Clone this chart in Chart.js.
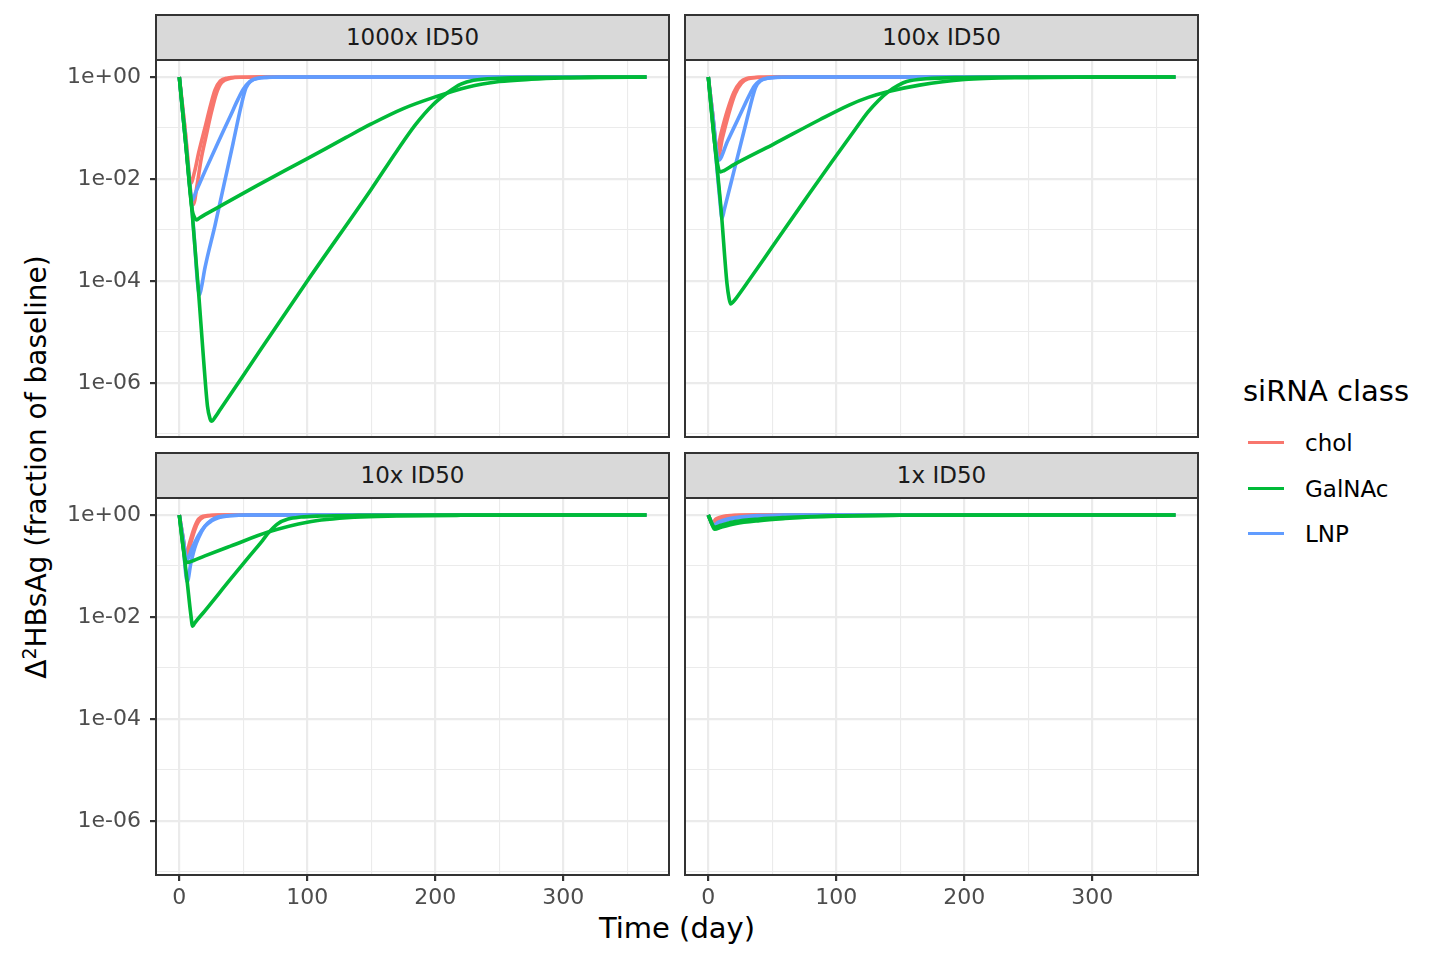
<!DOCTYPE html>
<html>
<head>
<meta charset="utf-8">
<title>HBsAg response by siRNA class</title>
<script src="https://cdn.jsdelivr.net/npm/chart.js@4.4.1/dist/chart.umd.min.js"></script>
<style>
  body { margin: 0; width: 1440px; height: 960px; background: #ffffff; position: relative; overflow: hidden; font-family: "DejaVu Sans", sans-serif; }
  .panel { position: absolute; }
  .strip { position: absolute; box-sizing: border-box; width: 515px; height: 47px; background: #d9d9d9; border: 2px solid #333333; color: #1a1a1a; font-size: 23px; line-height: 43px; text-align: center; }
  .title { position: absolute; color: #000000; font-size: 29px; line-height: 34px; white-space: nowrap; }
  .title sup { font-size: 19px; line-height: 0; }
  .key { position: absolute; left: 1248px; width: 36px; height: 3px; }
  .keylabel { position: absolute; left: 1305px; font-size: 23px; line-height: 30px; color: #000000; }
</style>
</head>
<body>
<div class="title" style="left:37px; top:450px; width:600px; margin-left:-300px; text-align:center; font-size:28px; transform:rotate(-90deg);">&Delta;<sup>2</sup>HBsAg (fraction of baseline)</div>
<div class="title" style="left:377px; top:911px; width:600px; text-align:center;">Time (day)</div>
<div class="title" style="left:1243px; top:374px;">siRNA class</div>
<div id="legend"></div>
<script>
// panels and axes
var panelTitles = ['1000x ID50', '100x ID50', '10x ID50', '1x ID50'];
var classNames = ['chol', 'GalNAc', 'LNP'];
var classColors = ['#F8766D', '#00BA38', '#619CFF'];
var xTickValues = [0, 100, 200, 300];
var xTickLabels = ['0', '100', '200', '300'];
var xMinorValues = [50, 150, 250, 350];
var yTickValues = [1, 1e-2, 1e-4, 1e-6];
var yTickLabels = ['1e+00', '1e-02', '1e-04', '1e-06'];
var yMinorValues = [1e-1, 1e-3, 1e-5, 1e-7];

// [day, fraction of baseline]
// 1000x ID50
var chol1000a = [[0,1],[4,0.126],[9,8.32e-3],[12,1.41e-2],[15,3.16e-2],[20,0.1],[25,0.316],[28,0.562],[32,0.832],[38,0.955],[45,0.989],[60,1],[365,1]];
var chol1000b = [[0,1],[5,7.08e-2],[11,3.16e-3],[14,7.94e-3],[17,2.40e-2],[21,7.08e-2],[25,0.2],[29,0.479],[33,0.776],[40,0.944],[50,0.989],[65,1],[365,1]];
var galnac1000a = [[0,1],[5,5.01e-2],[10,2.24e-3],[15,6.31e-5],[19,2.82e-6],[22,3.55e-7],[24,2.0e-7],[25.5,1.78e-7],[28,2.14e-7],[32,3.02e-7],[50,1.41e-6],[100,1e-4],[150,6.31e-3],[170,3.55e-2],[185,0.120],[198,0.282],[210,0.501],[220,0.724],[230,0.861],[250,0.944],[280,0.977],[320,0.993],[365,1]];
var galnac1000b = [[0,1],[5,5.01e-2],[10,2.51e-3],[12,1.74e-3],[13.5,1.58e-3],[16,1.74e-3],[30,2.75e-3],[60,7.24e-3],[100,2.51e-2],[130,6.46e-2],[150,0.120],[175,0.240],[200,0.407],[225,0.631],[250,0.813],[275,0.902],[300,0.955],[330,0.982],[365,0.993]];
var lnp1000a = [[0,1],[5,5.01e-2],[10,2.51e-3],[12,5.62e-4],[14.1,1e-4],[15.8,5.37e-5],[17.5,7.94e-5],[20,1.78e-4],[28,1.26e-3],[35,7.94e-3],[42,5.01e-2],[48,0.251],[52,0.603],[56,0.832],[62,0.944],[75,0.989],[100,1],[365,1]];
var lnp1000b = [[0,1],[5,5.62e-2],[10,3.80e-3],[13,5.62e-3],[20,1.41e-2],[30,5.01e-2],[40,0.174],[46,0.372],[50,0.575],[55,0.813],[60,0.933],[68,0.982],[80,1],[365,1]];
// 100x ID50
var chol100a = [[0,1],[3,0.224],[6.8,3.72e-2],[10,7.94e-2],[15,0.224],[20,0.501],[25,0.794],[30,0.933],[40,0.989],[55,1],[365,1]];
var chol100b = [[0,1],[3.5,0.178],[7.5,2.51e-2],[11,6.31e-2],[16,0.191],[21,0.468],[26,0.759],[31,0.923],[40,0.982],[55,1],[365,1]];
var galnac100a = [[0,1],[5,5.01e-2],[10,2.51e-3],[14.6,8.91e-5],[16.3,4.47e-5],[17.5,3.55e-5],[19,3.80e-5],[22,4.68e-5],[30,8.91e-5],[50,4.68e-4],[75,3.72e-3],[96,2.09e-2],[115,9.55e-2],[125,0.209],[133,0.347],[140,0.501],[148,0.676],[155,0.813],[170,0.923],[200,0.977],[250,0.995],[365,1]];
var galnac100b = [[0,1],[5,5.01e-2],[8,1.58e-2],[9.5,1.38e-2],[12,1.45e-2],[20,1.91e-2],[50,4.68e-2],[87,0.145],[110,0.282],[125,0.398],[140,0.513],[165,0.692],[200,0.891],[250,0.973],[300,0.993],[365,1]];
var lnp100a = [[0,1],[5,5.01e-2],[9,3.98e-3],[10.7,1.70e-3],[12.5,2.51e-3],[15,4.47e-3],[20,1.41e-2],[25,4.47e-2],[30,0.141],[34,0.355],[37,0.631],[41,0.851],[48,0.955],[60,0.991],[80,1],[365,1]];
var lnp100b = [[0,1],[4,0.141],[8,2.34e-2],[15,5.50e-2],[25,0.186],[32,0.437],[36,0.661],[40,0.832],[45,0.933],[55,0.989],[70,1],[365,1]];
// 10x ID50
var chol10a = [[0,1],[2.5,0.398],[5.2,0.166],[8,0.282],[11,0.501],[14,0.759],[17,0.912],[22,0.977],[30,1],[365,1]];
var chol10b = [[0,1],[3,0.355],[5.8,0.138],[9,0.282],[12,0.501],[15,0.741],[19,0.912],[25,0.977],[35,1],[365,1]];
var galnac10a = [[0,1],[3,0.234],[6,5.37e-2],[9,1.12e-2],[10.4,6.61e-3],[12,7.59e-3],[20,1.32e-2],[40,5.50e-2],[55,0.158],[65,0.316],[70,0.457],[77,0.676],[85,0.832],[95,0.912],[110,0.955],[140,0.982],[200,0.995],[365,1]];
var galnac10b = [[0,1],[3,0.234],[5.5,0.117],[8,0.120],[20,0.158],[40,0.245],[70,0.468],[100,0.724],[137,0.902],[170,0.955],[220,0.986],[280,0.995],[365,1]];
var lnp10a = [[0,1],[3,0.251],[6.2,4.90e-2],[9,0.112],[12,0.224],[15,0.355],[20,0.603],[25,0.794],[30,0.912],[40,0.977],[55,1],[365,1]];
var lnp10b = [[0,1],[3,0.355],[6,0.132],[10,0.224],[15,0.398],[20,0.603],[25,0.759],[30,0.871],[40,0.966],[55,1],[365,1]];
// 1x ID50
var chol1a = [[0,1],[1.5,0.813],[2.9,0.692],[6,0.832],[10,0.912],[15,0.966],[22,0.991],[30,1],[365,1]];
var chol1b = [[0,1],[1.6,0.794],[3.2,0.661],[7,0.813],[12,0.912],[18,0.966],[26,0.991],[35,1],[365,1]];
var galnac1a = [[0,1],[2.5,0.692],[5,0.525],[10,0.575],[21,0.676],[40,0.776],[60,0.851],[80,0.912],[100,0.951],[150,0.986],[200,0.995],[365,1]];
var galnac1b = [[0,1],[2.3,0.724],[4.6,0.575],[10,0.631],[21,0.741],[40,0.832],[60,0.891],[80,0.933],[100,0.966],[150,0.991],[250,1],[365,1]];
var lnp1a = [[0,1],[2,0.759],[4.2,0.603],[8,0.692],[15,0.794],[25,0.891],[40,0.955],[60,0.989],[90,1],[365,1]];
var lnp1b = [[0,1],[2,0.776],[4,0.631],[8,0.724],[15,0.832],[25,0.912],[40,0.973],[60,0.993],[80,1],[365,1]];

// per panel, per class (same order as classNames)
var panelCurves = [
  [[chol1000a, chol1000b], [galnac1000a, galnac1000b], [lnp1000a, lnp1000b]],
  [[chol100a, chol100b], [galnac100a, galnac100b], [lnp100a, lnp100b]],
  [[chol10a, chol10b], [galnac10a, galnac10b], [lnp10a, lnp10b]],
  [[chol1a, chol1b], [galnac1a, galnac1b], [lnp1a, lnp1b]]
];

var boxes = [
  { left: 156, top: 60, showX: false, showY: true },
  { left: 685, top: 60, showX: false, showY: false },
  { left: 156, top: 498, showX: true, showY: true },
  { left: 685, top: 498, showX: true, showY: false }
];
var PW = 513, PH = 377, AX_W = 110, AX_H = 45, PAD = 4;
var FONT = '"DejaVu Sans", sans-serif';

function isMajorX(v) { return xTickValues.indexOf(v) >= 0; }
function yIndex(v) {
  for (var i = 0; i < yTickValues.length; i++) {
    if (Math.abs(Math.log10(v) - Math.log10(yTickValues[i])) < 1e-6) return i;
  }
  return -1;
}

var panelBorder = {
  id: 'panelBorder',
  afterDatasetsDraw: function (chart) {
    var a = chart.chartArea, c = chart.ctx;
    c.save();
    c.strokeStyle = '#333333';
    c.lineWidth = 2;
    c.strokeRect(a.left, a.top, a.right - a.left, a.bottom - a.top);
    c.restore();
  }
};

boxes.forEach(function (b, p) {
  // strip on top of each panel
  var strip = document.createElement('div');
  strip.className = 'strip';
  strip.style.left = (b.left - 1) + 'px';
  strip.style.top = (b.top - 46) + 'px';
  strip.textContent = panelTitles[p];
  document.body.appendChild(strip);

  var wrap = document.createElement('div');
  wrap.className = 'panel';
  wrap.style.left = (b.left - AX_W) + 'px';
  wrap.style.top = (b.top - PAD) + 'px';
  var cv = document.createElement('canvas');
  cv.width = AX_W + PW + PAD;
  cv.height = PAD + PH + AX_H;
  cv.style.width = cv.width + 'px';
  cv.style.height = cv.height + 'px';
  wrap.appendChild(cv);
  document.body.appendChild(wrap);

  // GalNAc first so it ends on top, chol at the bottom
  var datasets = [];
  [1, 2, 0].forEach(function (k) {
    panelCurves[p][k].forEach(function (curve) {
      datasets.push({
        label: classNames[k],
        data: curve.map(function (pt) { return { x: pt[0], y: pt[1] }; }),
        borderColor: classColors[k],
        borderWidth: 3.6,
        borderJoinStyle: 'round',
        pointRadius: 0,
        cubicInterpolationMode: 'monotone',
        fill: false
      });
    });
  });

  new Chart(cv.getContext('2d'), {
    type: 'line',
    data: { datasets: datasets },
    options: {
      responsive: false,
      animation: false,
      layout: { padding: { left: 0, top: PAD, right: PAD, bottom: 0 } },
      plugins: { legend: { display: false }, tooltip: { enabled: false } },
      scales: {
        x: {
          type: 'linear',
          min: -18.2,
          max: 382.6,
          afterBuildTicks: function (s) {
            s.ticks = xTickValues.concat(xMinorValues).sort(function (a, c) { return a - c; })
              .map(function (v) { return { value: v }; });
          },
          afterFit: function (s) { s.height = AX_H; s.paddingLeft = 0; s.paddingRight = 0; },
          ticks: {
            display: b.showX,
            autoSkip: false,
            maxRotation: 0,
            padding: 4,
            color: '#4D4D4D',
            font: { family: FONT, size: 22 },
            callback: function (v) { var i = xTickValues.indexOf(v); return i >= 0 ? xTickLabels[i] : ''; }
          },
          grid: {
            color: '#EBEBEB',
            lineWidth: function (ctx) { return ctx.tick && isMajorX(ctx.tick.value) ? 2.2 : 1.1; },
            drawTicks: b.showX,
            tickLength: 6,
            tickWidth: 2.2,
            tickColor: function (ctx) { return ctx.tick && isMajorX(ctx.tick.value) ? '#333333' : 'rgba(0,0,0,0)'; }
          },
          border: { display: false }
        },
        y: {
          type: 'logarithmic',
          min: 8.73e-8,
          max: 2.154,
          afterBuildTicks: function (s) {
            s.ticks = yTickValues.concat(yMinorValues).map(function (v) { return { value: v }; });
          },
          afterFit: function (s) { s.width = AX_W; s.paddingTop = 0; s.paddingBottom = 0; },
          ticks: {
            display: b.showY,
            autoSkip: false,
            padding: 9,
            color: '#4D4D4D',
            font: { family: FONT, size: 22 },
            callback: function (v) { var i = yIndex(v); return i >= 0 ? yTickLabels[i] : ''; }
          },
          grid: {
            color: '#EBEBEB',
            lineWidth: function (ctx) { return ctx.tick && yIndex(ctx.tick.value) >= 0 ? 2.2 : 1.1; },
            drawTicks: b.showY,
            tickLength: 6,
            tickWidth: 2.2,
            tickColor: function (ctx) { return ctx.tick && yIndex(ctx.tick.value) >= 0 ? '#333333' : 'rgba(0,0,0,0)'; }
          },
          border: { display: false }
        }
      }
    },
    plugins: [panelBorder]
  });
});

// legend
var legend = document.getElementById('legend');
var keyTops = [441, 487, 532];
classNames.forEach(function (name, k) {
  var line = document.createElement('div');
  line.className = 'key';
  line.style.top = keyTops[k] + 'px';
  line.style.background = classColors[k];
  legend.appendChild(line);
  var lab = document.createElement('div');
  lab.className = 'keylabel';
  lab.style.top = (keyTops[k] - 13) + 'px';
  lab.textContent = name;
  legend.appendChild(lab);
});
</script>
</body>
</html>
